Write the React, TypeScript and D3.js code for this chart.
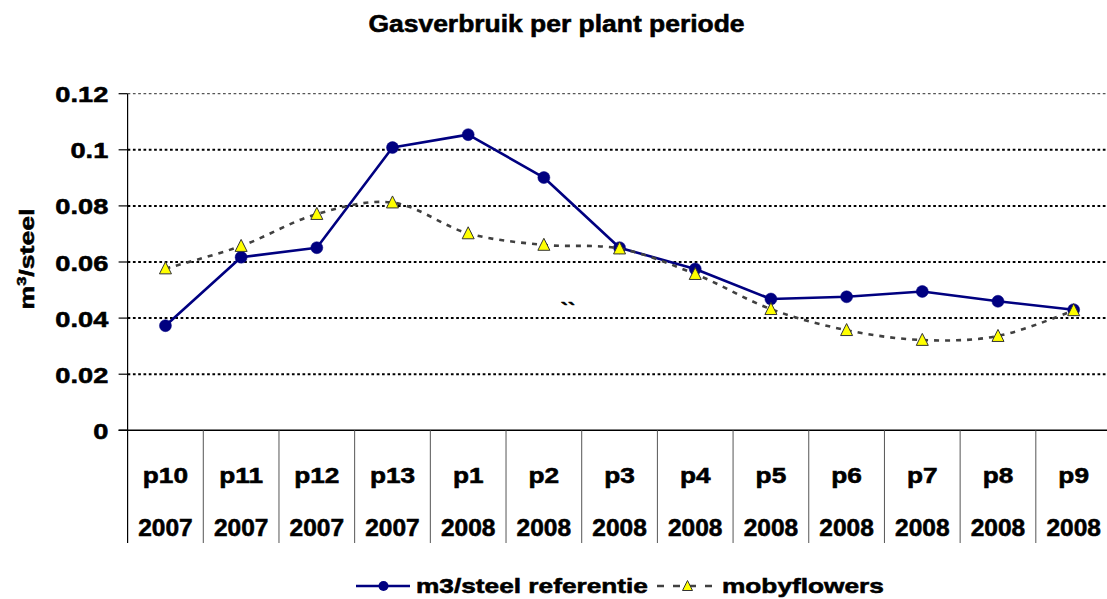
import React from "react";
import * as d3 from "d3";

const categories = ["p10", "p11", "p12", "p13", "p1", "p2", "p3", "p4", "p5", "p6", "p7", "p8", "p9"];
const years = ["2007", "2007", "2007", "2007", "2008", "2008", "2008", "2008", "2008", "2008", "2008", "2008", "2008"];
const referentie = [0.0373, 0.0617, 0.0651, 0.1008, 0.1054, 0.0901, 0.0651, 0.0575, 0.0468, 0.0476, 0.0495, 0.046, 0.043];
const mobyflowers = [0.0577, 0.0657, 0.0771, 0.0812, 0.0702, 0.0661, 0.0648, 0.0557, 0.0432, 0.0357, 0.0322, 0.0336, 0.0428];
const yTicks = [0, 0.02, 0.04, 0.06, 0.08, 0.1, 0.12];
const yTickLabels = ["0", "0.02", "0.04", "0.06", "0.08", "0.1", "0.12"];
const seriesNames = ["m3/steel referentie", "mobyflowers"];
const title = "Gasverbruik per plant periode";

const W = 1107;
const H = 599;
const FONT = "'Liberation Sans', Arial, Helvetica, sans-serif";
const NAVY = "#000080";
const DASHC = "#404040";
const TSTROKE = 0.55;

const x = d3.scaleBand<string>().domain(categories).range([127.6, 1111.5]).paddingInner(0).paddingOuter(0);
const y = d3.scaleLinear().domain([0, 0.12]).range([430.3, 93.7]);
const cx = (c: string) => (x(c) as number) + x.bandwidth() / 2;

const refLine = d3
  .line<number>()
  .x((_, i) => cx(categories[i]))
  .y((d) => y(d));
const mobyLine = d3
  .line<number>()
  .x((_, i) => cx(categories[i]))
  .y((d) => y(d))
  .curve(d3.curveCatmullRom.alpha(0.5));

const tri = (px: number, py: number, s: number) =>
  `M${px},${py - s * 0.55} L${px + s * 0.5},${py + s * 0.45} L${px - s * 0.5},${py + s * 0.45} Z`;

function SText(props: {
  x: number;
  y: number;
  size: number;
  sx: number;
  anchor?: string;
  children: React.ReactNode;
}) {
  return (
    <text
      transform={`translate(${props.x},${props.y}) scale(${props.sx},1)`}
      textAnchor={props.anchor || "start"}
      fontSize={props.size}
      fontWeight="bold"
      fontFamily={FONT}
      fill="#000"
      stroke="#000"
      strokeWidth={TSTROKE}
    >
      {props.children}
    </text>
  );
}

export default function App() {
  const x0 = x.range()[0];
  const x1 = x.range()[1];
  const bottom = y(0);
  const divBottom = 543;
  return (
    <svg
      width={W}
      height={H}
      viewBox={`0 0 ${W} ${H}`}
      style={{ position: "absolute", left: 0, top: 0, background: "#fff" }}
    >
      <rect x={0} y={0} width={W} height={H} fill="#fff" />
      <SText x={556.5} y={31.5} size={23} sx={1.15} anchor="middle">
        {title}
      </SText>

      {/* gridlines */}
      {yTicks.slice(1).map((t, i) => (
        <line
          key={"g" + i}
          x1={x0}
          x2={x1}
          y1={y(t)}
          y2={y(t)}
          stroke={t === 0.12 ? "#555" : "#000"}
          strokeWidth={t === 0.12 ? 1.2 : 2}
          strokeDasharray="2.7,2.6"
        />
      ))}

      {/* y axis */}
      <line x1={x0} x2={x0} y1={y(0.12)} y2={divBottom} stroke="#000" strokeWidth={1.2} />
      {yTicks.map((t, i) => (
        <line key={"yt" + i} x1={x0 - 9} x2={x0} y1={y(t)} y2={y(t)} stroke="#000" strokeWidth={1.2} />
      ))}
      {yTicks.map((t, i) => (
        <SText key={"yl" + i} x={108.3} y={y(t) + 8.5} size={22.3} sx={1.22} anchor="end">
          {yTickLabels[i]}
        </SText>
      ))}

      {/* x axis */}
      <line x1={x0 - 9} x2={x1} y1={bottom} y2={bottom} stroke="#000" strokeWidth={1.6} />
      {categories.slice(1).map((c) => (
        <line
          key={"d" + c}
          x1={x(c) as number}
          x2={x(c) as number}
          y1={bottom}
          y2={divBottom}
          stroke="#555"
          strokeWidth={1}
        />
      ))}
      {categories.map((c) => (
        <SText key={"xl" + c} x={cx(c)} y={482.7} size={21.5} sx={1.22} anchor="middle">
          {c}
        </SText>
      ))}
      {categories.map((c, i) => (
        <SText key={"yr" + c} x={cx(c)} y={536.3} size={24.5} sx={1.0} anchor="middle">
          {years[i]}
        </SText>
      ))}

      {/* y title */}
      <text
        transform="translate(34,259) rotate(-90) scale(1.27,1)"
        textAnchor="middle"
        fontSize={21}
        fontWeight="bold"
        fontFamily={FONT}
        fill="#000"
        stroke="#000"
        strokeWidth={TSTROKE}
      >
        m<tspan fontSize={13} dy={-8}>3</tspan>
        <tspan fontSize={21} dy={8}>/steel</tspan>
      </text>

      {/* stray mark */}
      <SText x={568} y={316} size={18} sx={1.2} anchor="middle">
        ``
      </SText>

      {/* referentie series */}
      <path d={refLine(referentie) || ""} fill="none" stroke={NAVY} strokeWidth={2.6} strokeLinejoin="round" />
      {referentie.map((v, i) => (
        <circle key={"c" + i} cx={cx(categories[i])} cy={y(v)} r={6} fill={NAVY} stroke={NAVY} strokeWidth={0.5} />
      ))}

      {/* mobyflowers series */}
      <path
        d={mobyLine(mobyflowers) || ""}
        fill="none"
        stroke={DASHC}
        strokeWidth={2.6}
        strokeDasharray="5,6"
      />
      {mobyflowers.map((v, i) => (
        <path key={"t" + i} d={tri(cx(categories[i]), y(v), 12)} fill="#ffff00" stroke="#333" strokeWidth={1} />
      ))}

      {/* legend */}
      <line x1={356} x2={410} y1={586} y2={586} stroke={NAVY} strokeWidth={2.6} />
      <circle cx={383.5} cy={586} r={5} fill={NAVY} />
      <SText x={416} y={592.7} size={21} sx={1.25}>
        {seriesNames[0]}
      </SText>
      <line x1={657} x2={719} y1={586} y2={586} stroke={DASHC} strokeWidth={2.6} strokeDasharray="7,9" />
      <path d={tri(687.5, 586, 10)} fill="#ffff00" stroke="#333" strokeWidth={1} />
      <SText x={722} y={592.7} size={21} sx={1.25}>
        {seriesNames[1]}
      </SText>
    </svg>
  );
}
